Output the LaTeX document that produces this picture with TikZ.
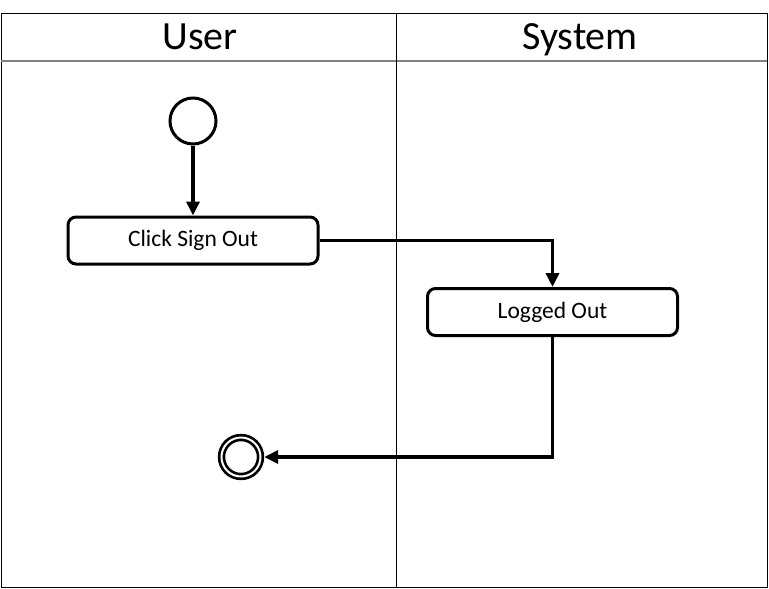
\documentclass[tikz,border=0pt]{standalone}
\usepackage{fontspec}
\setmainfont{Carlito}
\usetikzlibrary{arrows.meta}

\begin{document}
\begin{tikzpicture}[x=1pt,y=-1pt]
\useasboundingbox (0,0) rectangle (769,589);

% swimlanes
\draw[line width=1pt] (1,13) rectangle (767,587);
\draw[line width=1.5pt,gray] (1,61) -- (767,61);
\draw[line width=0.8pt] (396,13) -- (396,587);
\node (userlane) [anchor=base] at (200,49) {\fontsize{40}{42}\selectfont User};
\node (systemlane) [anchor=base] at (580,49) {\fontsize{40}{42}\selectfont System};

\begin{scope}[every node/.style={draw=black,line width=3pt}]
    \node (start) [circle,inner sep=0pt,minimum size=46pt] at (193,121) {};
    \node (click) [rectangle,rounded corners=8pt,minimum width=250pt,minimum height=47pt]
        at (193,240.5) {\fontsize{23.5}{26}\selectfont Click Sign Out};
    \node (logged) [rectangle,rounded corners=8pt,minimum width=250pt,minimum height=47pt]
        at (552.5,312) {\fontsize{23.5}{26}\selectfont Logged Out};
    \node (finish) [circle,inner sep=0pt,minimum size=39pt,line width=2.7pt,double=white,
        double distance=2pt,outer sep=3.7pt] at (241,457) {};
    \end{scope}

\begin{scope}[>={Triangle[length=14pt,width=13pt]},
              every path/.style={draw=black,line width=3.5pt}]
    \path [->] (start) -- (click);
    \path [->] (click.east) -| (logged.north);
    \path [->] (logged.south) |- (finish.east);
    
    \end{scope}

\end{tikzpicture}
\end{document}
